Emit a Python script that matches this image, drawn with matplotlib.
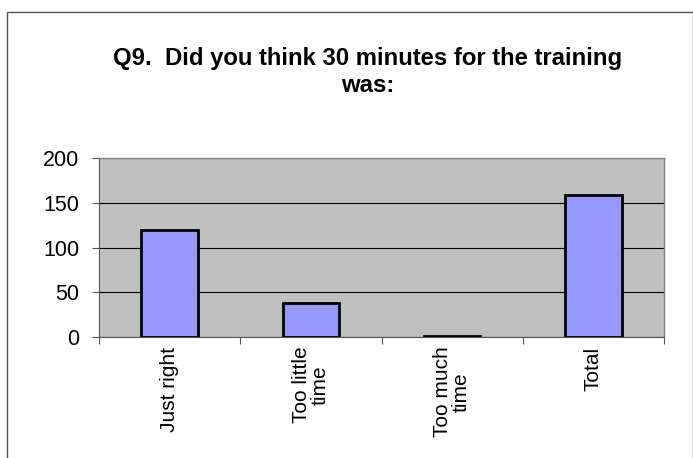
import matplotlib
matplotlib.use("Agg")
import matplotlib.pyplot as plt
from matplotlib.patches import Rectangle

categories = ["Just right", "Too little\ntime", "Too much\ntime", "Total"]
values = [120, 38, 1, 159]
yticks = [0, 50, 100, 150, 200]
title = "Q9.  Did you think 30 minutes for the training\nwas:"

plt.rcParams['font.family'] = ['Liberation Sans', 'DejaVu Sans']

fig = plt.figure(figsize=(6.93, 4.58), dpi=100)
fig.patch.set_facecolor('white')
# outer border
fig.patches.append(Rectangle((7/693, -0.01), (693-7.5)/693, (458-12)/458 + 0.01,
                             transform=fig.transFigure, fill=False,
                             edgecolor='#555555', linewidth=1.0))

ax = fig.add_axes([99/693, 1-337/458, (664-99)/693, (337-158)/458])
ax.set_facecolor('#C0C0C0')
x = list(range(len(categories)))
ax.bar(x, values, width=0.4, color='#9999FF', edgecolor='black', linewidth=2, zorder=3)
ax.set_xlim(-0.5, len(categories) - 0.5)
ax.set_ylim(0, 200)
ax.set_yticks(yticks)
ax.set_yticklabels([str(v) for v in yticks], fontsize=15.5)
ax.yaxis.grid(True, color='black', linewidth=0.8, zorder=1)
ax.set_axisbelow(True)
ax.set_xticks([i + 0.5 for i in x[:-1]] + [-0.5, len(categories) - 0.5])
ax.set_xticklabels([])
ax.set_xticks(x, minor=True)
ax.set_xticklabels(categories, minor=True, rotation=90, fontsize=15,
                   ha='center', va='top', multialignment='center', linespacing=0.95)
ax.tick_params(axis='x', which='minor', length=0, pad=7)
ax.tick_params(axis='x', which='major', length=5, direction='out', color='#555555')
ax.tick_params(axis='y', length=5, direction='out', color='#555555', pad=9)
for s in ['top', 'right']:
    ax.spines[s].set_color('#808080')
    ax.spines[s].set_linewidth(1.0)
ax.spines['left'].set_color('#555555')
ax.spines['bottom'].set_color('#555555')

fig.text(368/693, 1-72/458, title, ha='center', va='center', fontsize=17.2,
         fontweight='bold', linespacing=1.18)

fig.savefig("out.png", dpi=100)
